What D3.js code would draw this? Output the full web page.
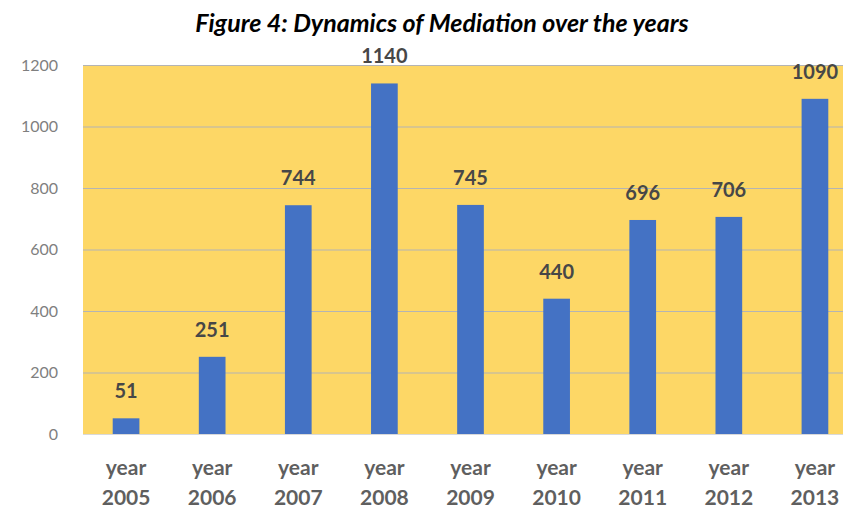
<!DOCTYPE html>
<html>
<head>
<meta charset="utf-8">
<script src="https://cdn.jsdelivr.net/npm/d3@7"></script>
<style>
  html, body { margin: 0; padding: 0; background: #fff; overflow: hidden; }
  svg { display: block; }
</style>
</head>
<body>
<svg id="chart" width="843" height="508"></svg>
<script>
// Mediation cases per year
const years = ["2005", "2006", "2007", "2008", "2009", "2010", "2011", "2012", "2013"];
const cases = [51, 251, 744, 1140, 745, 440, 696, 706, 1090];
const yTicks = [0, 200, 400, 600, 800, 1000, 1200];
const titleText = "Figure 4: Dynamics of Mediation over the years";

const svg = d3.select("#chart");
const font = "Lato, 'Open Sans', sans-serif";

const plot = { left: 83, right: 858, top: 65, bottom: 434 };

const x = d3.scaleBand()
  .domain(years)
  .range([plot.left, plot.right])
  .paddingInner(0.69)
  .paddingOuter(0.345);

const y = d3.scaleLinear()
  .domain([0, 1200])
  .range([plot.bottom, plot.top]);

// Plot background
svg.append("rect")
  .attr("x", plot.left).attr("y", plot.top)
  .attr("width", plot.right - plot.left)
  .attr("height", plot.bottom - plot.top)
  .attr("fill", "#FDD766");

// Gridlines
svg.append("g")
  .selectAll("line")
  .data(yTicks)
  .join("line")
  .attr("x1", plot.left).attr("x2", plot.right)
  .attr("y1", d => y(d) + 0.5).attr("y2", d => y(d) + 0.5)
  .attr("stroke", d => d === 0 ? "#D9D9D9" : "#B4B4B4")
  .attr("stroke-width", 1.2);

// Y axis labels
const yAxis = d3.axisLeft(y).tickValues(yTicks).tickFormat(d3.format("d")).tickSize(0).tickPadding(0);
svg.append("g")
  .attr("transform", `translate(${plot.left - 25},0)`)
  .call(yAxis)
  .call(g => g.select(".domain").remove())
  .call(g => g.selectAll("text")
    .attr("font-family", font)
    .attr("font-size", 16)
    .attr("fill", "#7F7F7F"));

// Bars
svg.append("g")
  .selectAll("rect")
  .data(cases)
  .join("rect")
  .attr("x", (d, i) => x(years[i]))
  .attr("y", d => y(d))
  .attr("width", x.bandwidth())
  .attr("height", d => y(0) - y(d))
  .attr("fill", "#4472C4");

// Value labels
svg.append("g")
  .selectAll("text")
  .data(cases)
  .join("text")
  .attr("x", (d, i) => x(years[i]) + x.bandwidth() / 2)
  .attr("y", d => y(d) - 20)
  .attr("text-anchor", "middle")
  .attr("font-family", font)
  .attr("font-size", 20)
  .attr("font-weight", "bold")
  .attr("fill", "#474747")
  .text(d => d);

// X axis labels: "year" over the year number
const xAxis = d3.axisBottom(x).tickSize(0).tickPadding(0).tickFormat(() => "");
const xg = svg.append("g")
  .attr("transform", `translate(0,${plot.bottom})`)
  .call(xAxis);
xg.select(".domain").remove();
xg.selectAll(".tick").each(function(d) {
  const t = d3.select(this).select("text")
    .attr("font-family", font)
    .attr("font-size", 21)
    .attr("font-weight", "bold")
    .attr("fill", "#5F5F5F")
    .attr("text-anchor", "middle")
    .attr("y", 0)
    .attr("dy", null);
  t.append("tspan").attr("x", 0).attr("y", 41).text("year");
  t.append("tspan").attr("x", 0).attr("y", 71).text(d);
});

// Title
svg.append("text")
  .attr("x", 442)
  .attr("y", 32)
  .attr("text-anchor", "middle")
  .attr("font-family", font)
  .attr("font-size", 25)
  .attr("font-weight", "bold")
  .attr("font-style", "italic")
  .attr("fill", "#000")
  .text(titleText);
</script>
</body>
</html>
